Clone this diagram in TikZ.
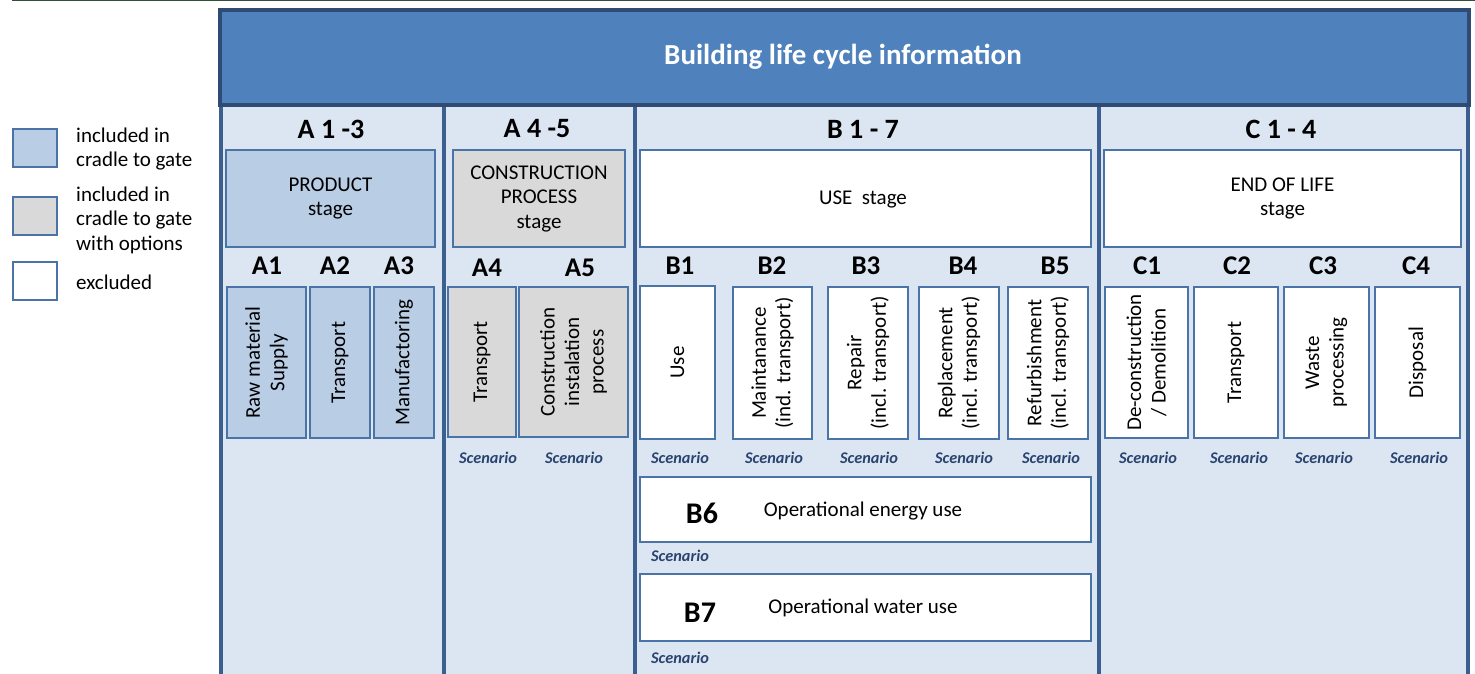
\documentclass[tikz,border=0pt]{standalone}
\usepackage{fontspec}
\setmainfont{Carlito}
\definecolor{hdrfill}{HTML}{4F81BD}
\definecolor{hdrline}{HTML}{2F4B73}
\definecolor{colfill}{HTML}{DCE6F2}
\definecolor{colline}{HTML}{3B5F8F}
\definecolor{boxline}{HTML}{4A74A8}
\definecolor{prodfill}{HTML}{B9CDE5}
\definecolor{grayfill}{HTML}{D9D9D9}
\definecolor{scen}{HTML}{2A4470}
\definecolor{topline}{HTML}{30503A}
\begin{document}
\begin{tikzpicture}[x=1pt,y=-1pt,
  column/.style={draw=colline, fill=colfill, line width=4pt, inner sep=0pt, anchor=north west},
  header/.style={draw=hdrline, fill=hdrfill, line width=4pt, inner sep=0pt, anchor=north west},
  cell/.style={draw=boxline, line width=2pt, inner sep=0pt, anchor=north west},
  prod/.style={cell, fill=prodfill},
  opt/.style={cell, fill=grayfill},
  excl/.style={cell, fill=white},
  txt/.style={font=\fontsize{21}{24.5}\selectfont, align=center, inner sep=0pt},
  vtxt/.style={txt, rotate=90},
  head/.style={font=\fontsize{28}{32}\selectfont\bfseries, inner sep=0pt},
  code/.style={font=\fontsize{27}{30}\selectfont\bfseries, inner sep=0pt},
  bigcode/.style={font=\fontsize{30}{34}\selectfont\bfseries, inner sep=0pt},
  scenario/.style={font=\fontsize{16.3}{19}\selectfont\bfseries\itshape, text=scen, inner sep=0pt},
  legtxt/.style={font=\fontsize{21}{24.5}\selectfont, align=left, anchor=west, inner sep=0pt}
]
\useasboundingbox (0,0) rectangle (1475,674);
\draw[topline, line width=2pt] (12,0.5) -- (1475,0.5);

% legend
\node[prod, minimum width=44pt, minimum height=38pt] (l1) at (12,128) {};
\node[opt, minimum width=44pt, minimum height=38pt] (l2) at (12,196) {};
\node[excl, minimum width=44pt, minimum height=38pt] (l3) at (12,261) {};
\node[legtxt] (l1t) at (76,149) {included in\\cradle to gate};
\node[legtxt] (l2t) at (76,220) {included in\\cradle to gate\\with options};
\node[legtxt] (l3t) at (76,282) {excluded};

% columns
\begin{scope}
\clip (0,0) rectangle (1475,674);
\node[column, minimum width=223pt, minimum height=600pt] (colA) at (219,103) {};
\node[column, minimum width=191pt, minimum height=600pt] (colB) at (442,103) {};
\node[column, minimum width=464pt, minimum height=600pt] (colC) at (633,103) {};
\node[column, minimum width=369pt, minimum height=600pt] (colD) at (1097,103) {};
\end{scope}

% header
\node[header, minimum width=1249pt, minimum height=95pt] (hdr) at (218,8) {};
\node[font=\fontsize{29}{33}\selectfont\bfseries, text=white, inner sep=0pt] (title) at (843,57) {Building life cycle information};

% column headings
\node[head] (hA) at (331,129) {A 1 -3};
\node[head] (hB) at (537,129) {A 4 -5};
\node[head] (hC) at (863,129) {B 1 - 7};
\node[head] (hD) at (1281,129) {C 1 - 4};

% stage boxes
\node[prod, minimum width=209pt, minimum height=97pt] (sA) at (225,149) {};
\node[txt] (sAt) at (sA.center) {PRODUCT\\stage};
\node[opt, minimum width=172pt, minimum height=97pt] (sB) at (452,149) {};
\node[txt] (sBt) at (sB.center) {CONSTRUCTION\\PROCESS\\stage};
\node[excl, minimum width=451pt, minimum height=97pt] (sC) at (639,149) {};
\node[txt] (sCt) at (863,199) {USE\ \ stage};
\node[excl, minimum width=357pt, minimum height=97pt] (sD) at (1103,149) {};
\node[txt] (sDt) at (sD.center) {END OF LIFE\\stage};

% module codes
\node[code] (cA1) at (267,266) {A1};
\node[code] (cA2) at (335,266) {A2};
\node[code] (cA3) at (399,266) {A3};
\node[code] (cA4) at (487,268) {A4};
\node[code] (cA5) at (580,268) {A5};
\node[code] (cB1) at (680,266) {B1};
\node[code] (cB2) at (772,266) {B2};
\node[code] (cB3) at (866,266) {B3};
\node[code] (cB4) at (963,266) {B4};
\node[code] (cB5) at (1055,266) {B5};
\node[code] (cC1) at (1147,266) {C1};
\node[code] (cC2) at (1237,266) {C2};
\node[code] (cC3) at (1323,266) {C3};
\node[code] (cC4) at (1416,266) {C4};

% module boxes
\node[prod, minimum width=79pt, minimum height=151pt] (a1) at (226,286) {};
\node[vtxt] (a1t) at (a1.center) {Raw material\\Supply};
\node[prod, minimum width=60pt, minimum height=151pt] (a2) at (309,286) {};
\node[vtxt] (a2t) at (a2.center) {Transport};
\node[prod, minimum width=60pt, minimum height=151pt] (a3) at (373,286) {};
\node[vtxt] (a3t) at (a3.center) {Manufactoring};
\node[opt, minimum width=68pt, minimum height=150pt] (a4) at (447,286) {};
\node[vtxt] (a4t) at (a4.center) {Transport};
\node[opt, minimum width=109pt, minimum height=150pt] (a5) at (518,286) {};
\node[vtxt] (a5t) at (a5.center) {Construction\\instalation\\process};

\node[excl, minimum width=75pt, minimum height=153pt] (b1) at (639,285) {};
\node[vtxt] (b1t) at (b1.center) {Use};
\node[excl, minimum width=79pt, minimum height=152pt] (b2) at (732,286) {};
\node[vtxt] (b2t) at (b2.center) {Maintanance\\(ind. transport)};
\node[excl, minimum width=80pt, minimum height=152pt] (b3) at (827,286) {};
\node[vtxt] (b3t) at (b3.center) {Repair\\(incl. transport)};
\node[excl, minimum width=80pt, minimum height=152pt] (b4) at (918,286) {};
\node[vtxt] (b4t) at (b4.center) {Replacement\\(incl. transport)};
\node[excl, minimum width=80pt, minimum height=152pt] (b5) at (1007,286) {};
\node[vtxt] (b5t) at (b5.center) {Refurbishment\\(incl. transport)};

\node[excl, minimum width=83pt, minimum height=151pt] (c1) at (1104,286) {};
\node[vtxt] (c1t) at (c1.center) {De-construction\\/ Demolition};
\node[excl, minimum width=84pt, minimum height=151pt] (c2) at (1193,286) {};
\node[vtxt] (c2t) at (c2.center) {Transport};
\node[excl, minimum width=85pt, minimum height=151pt] (c3) at (1283,286) {};
\node[vtxt] (c3t) at (c3.center) {Waste\\processing};
\node[excl, minimum width=85pt, minimum height=151pt] (c4) at (1374,286) {};
\node[vtxt] (c4t) at (c4.center) {Disposal};

% scenario labels
\node[scenario] (sc1) at (488,458) {Scenario};
\node[scenario] (sc2) at (574,458) {Scenario};
\node[scenario] (sc3) at (680,458) {Scenario};
\node[scenario] (sc4) at (774,458) {Scenario};
\node[scenario] (sc5) at (869,458) {Scenario};
\node[scenario] (sc6) at (964,458) {Scenario};
\node[scenario] (sc7) at (1051,458) {Scenario};
\node[scenario] (sc8) at (1148,458) {Scenario};
\node[scenario] (sc9) at (1239,458) {Scenario};
\node[scenario] (sc10) at (1324,458) {Scenario};
\node[scenario] (sc11) at (1419,458) {Scenario};

% B6, B7
\node[excl, minimum width=451pt, minimum height=65pt] (b6) at (639,476) {};
\node[bigcode] (b6c) at (702,513) {B6};
\node[txt] (b6t) at (863,511) {Operational energy use};
\node[scenario] (sc12) at (680,556) {Scenario};
\node[excl, minimum width=451pt, minimum height=67pt] (b7) at (639,573) {};
\node[bigcode] (b7c) at (700,613) {B7};
\node[txt] (b7t) at (863,608) {Operational water use};
\node[scenario] (sc13) at (680,658) {Scenario};
\end{tikzpicture}
\end{document}
